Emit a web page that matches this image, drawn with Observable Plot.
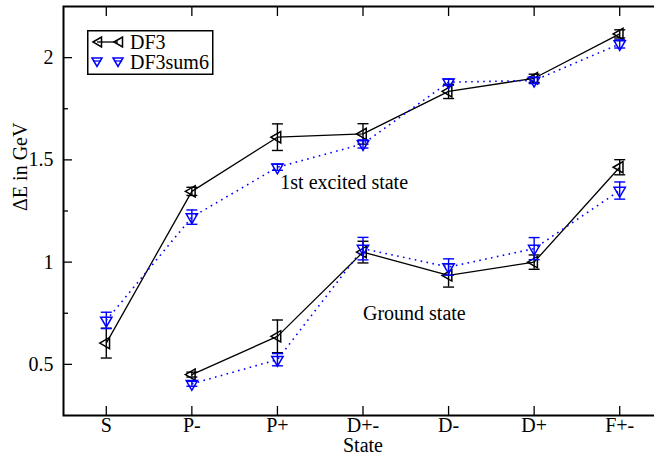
<!DOCTYPE html>
<html><head><meta charset="utf-8">
<script src="https://cdn.jsdelivr.net/npm/d3@7"></script>
<script src="https://cdn.jsdelivr.net/npm/@observablehq/plot@0.6"></script>
<style>
html,body{margin:0;padding:0;background:#fff;overflow:hidden}
#wrap{position:relative;width:654px;height:457px;font-family:"Liberation Serif","Times New Roman",serif}
#legend{position:absolute;left:87px;top:30px}
#wrap svg text{font-family:"Liberation Serif","Times New Roman",serif}
</style></head><body><div id="wrap"></div>
<script>
const states = ["S", "P-", "P+", "D+-", "D-", "D+", "F+-"];
const groundStates = ["P-", "P+", "D+-", "D-", "D+", "F+-"];
const df3Excited = [0.604, 1.346, 1.611, 1.627, 1.835, 1.899, 2.116];
const df3ExcitedErr = [0.073, 0.02, 0.065, 0.05, 0.035, 0.02, 0.02];
const sum6Excited = [0.715, 1.22, 1.464, 1.578, 1.88, 1.888, 2.067];
const sum6ExcitedErr = [0.04, 0.035, 0.015, 0.02, 0.015, 0.015, 0.02];
const df3Ground = [0.45, 0.637, 1.049, 0.935, 1.0, 1.464];
const df3GroundErr = [0.012, 0.08, 0.053, 0.057, 0.035, 0.037];
const sum6Ground = [0.405, 0.523, 1.066, 0.976, 1.066, 1.35];
const sum6GroundErr = [0.012, 0.03, 0.055, 0.04, 0.054, 0.042];
const yMajor = [0.5, 1, 1.5, 2];
const yMinor = [0.75, 1.25, 1.75];
const annotations = [
  {text: "1st excited state", x: 3.78, y: 1.39},
  {text: "Ground state", x: 4.6, y: 0.75}
];

const idx = s => states.indexOf(s) + 1;
function rows(names, vals, errs, series) {
  return names.map((s, i) => ({x: idx(s), v: vals[i], e: errs[i], series}));
}
const dfE = rows(states, df3Excited, df3ExcitedErr, "DF3");
const dfG = rows(groundStates, df3Ground, df3GroundErr, "DF3");
const smE = rows(states, sum6Excited, sum6ExcitedErr, "DF3sum6");
const smG = rows(groundStates, sum6Ground, sum6GroundErr, "DF3sum6");

const cap = {draw(ctx) { ctx.moveTo(-5.5, 0); ctx.lineTo(5.5, 0); }};
const BLUE = "#0000ff";
const font = '"Liberation Serif", "Times New Roman", serif';
const FS = 20;

function seriesMarks(data, color, dash, rot, sw) {
  return [
    Plot.line(data, {x: "x", y: "v", stroke: color, strokeWidth: sw, strokeDasharray: dash, strokeLinecap: "butt"}),
    Plot.ruleX(data, {x: "x", y1: d => d.v - d.e, y2: d => d.v + d.e, stroke: color, strokeWidth: 1.4}),
    Plot.dot(data, {x: "x", y: d => d.v - d.e, symbol: cap, stroke: color, strokeWidth: 1.4, fill: "none"}),
    Plot.dot(data, {x: "x", y: d => d.v + d.e, symbol: cap, stroke: color, strokeWidth: 1.4, fill: "none"}),
    Plot.dot(data, {x: "x", y: "v", symbol: "triangle", rotate: rot, r: 4.2, stroke: color, strokeWidth: 1.5, fill: "none"})
  ];
}

const ticks = states.map((s, i) => i + 1);
const chart = Plot.plot({
  width: 654, height: 457,
  marginLeft: 63, marginRight: -8, marginTop: 6, marginBottom: 42,
  style: {fontFamily: font, fontSize: FS + "px", background: "#fff", color: "#000"},
  x: {type: "linear", domain: [0.5, 7.5], label: null},
  y: {domain: [0.25, 2.25], label: null},
  marks: [
    Plot.axisX({anchor: "bottom", ticks, tickSize: 0, tickPadding: 2, tickFormat: i => states[i - 1], label: null, fontSize: FS}),
    Plot.axisX({anchor: "bottom", ticks, tickSize: -9, fill: "none", label: null, strokeWidth: 1.3}),
    Plot.axisX({anchor: "top", ticks, tickSize: -9, fill: "none", label: null, strokeWidth: 1.3}),
    Plot.axisY({anchor: "left", ticks: yMajor, tickSize: 0, tickPadding: 10, tickFormat: d => String(d), label: null, fontSize: FS}),
    Plot.axisY({anchor: "left", ticks: yMajor, tickSize: -9, fill: "none", label: null, strokeWidth: 1.3}),
    Plot.axisY({anchor: "left", ticks: yMinor, tickSize: -5, fill: "none", label: null, strokeWidth: 1.3}),
    Plot.axisY({anchor: "right", ticks: yMajor, tickSize: -9, fill: "none", label: null, strokeWidth: 1.3}),
    Plot.axisY({anchor: "right", ticks: yMinor, tickSize: -5, fill: "none", label: null, strokeWidth: 1.3}),
    ...seriesMarks(dfE, "#000", null, -90, 1.3),
    ...seriesMarks(dfG, "#000", null, -90, 1.3),
    ...seriesMarks(smE, BLUE, "1.6,4.4", 180, 1.6),
    ...seriesMarks(smG, BLUE, "1.6,4.4", 180, 1.6),
    Plot.text(annotations, {x: "x", y: "y", text: "text", fontSize: FS, fill: "#000"}),
    Plot.text(["ΔE in GeV"], {frameAnchor: "left", dx: -43, rotate: -90, fontSize: FS, fill: "#000"}),
    Plot.text(["State"], {frameAnchor: "bottom", lineAnchor: "middle", dy: 30, fontSize: FS, fill: "#000"}),
    Plot.frame({stroke: "#000", strokeWidth: 2})
  ]
});
const wrap = document.getElementById("wrap");
wrap.appendChild(chart);

const legend = `
<svg id="legend" width="128" height="46" xmlns="http://www.w3.org/2000/svg" font-size="${FS}">
  <rect x="0.75" y="0.75" width="125" height="43.5" fill="#fff" stroke="#000" stroke-width="1.5"/>
  <line x1="10" y1="12" x2="31" y2="12" stroke="#000" stroke-width="1.3"/>
  <path d="M6,12 L14.5,7 L14.5,17 Z" fill="none" stroke="#000" stroke-width="1.5"/>
  <path d="M27,12 L35.5,7 L35.5,17 Z" fill="none" stroke="#000" stroke-width="1.5"/>
  <text x="43" y="19" fill="#000">DF3</text>
  <path d="M5,28 L15,28 L10,36.5 Z" fill="none" stroke="${BLUE}" stroke-width="1.5"/>
  <path d="M26,28 L36,28 L31,36.5 Z" fill="none" stroke="${BLUE}" stroke-width="1.5"/>
  <line x1="6" y1="31" x2="14" y2="31" stroke="${BLUE}" stroke-width="1.3"/>
  <line x1="27" y1="31" x2="35" y2="31" stroke="${BLUE}" stroke-width="1.3"/>
  <text x="43" y="39" fill="#000">DF3sum6</text>
</svg>`;
wrap.insertAdjacentHTML("beforeend", legend);
</script>
</body></html>
